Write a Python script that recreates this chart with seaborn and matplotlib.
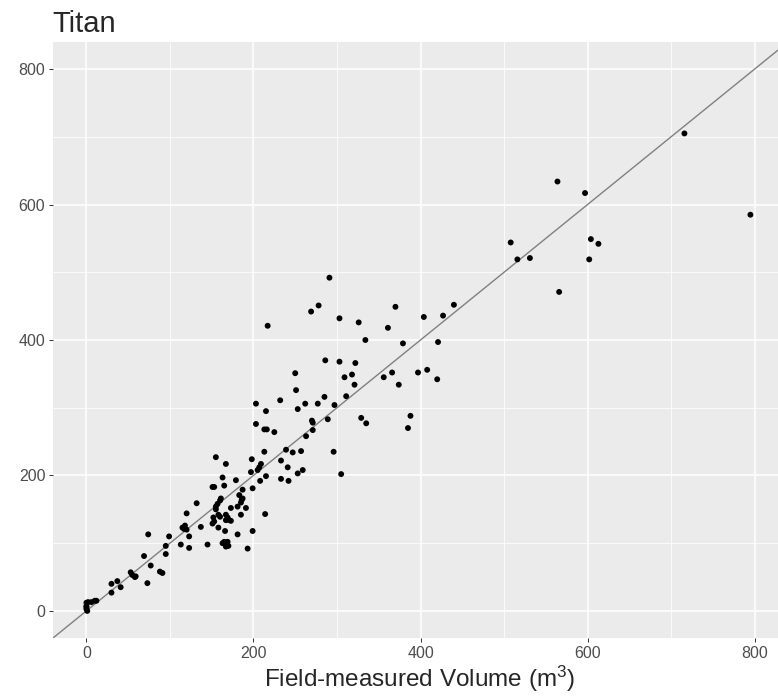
import matplotlib
matplotlib.use("Agg")
import matplotlib.pyplot as plt
import seaborn as sns
import pandas as pd

# field-measured volume (m3) vs Titan estimate
field_volume = [
    564, 597, 795, 508, 516, 531, 604, 613, 602, 566, 370, 440, 361, 404, 427,
    379, 421, 356, 366, 374, 397, 408, 420, 388, 716,
    291, 269, 278, 217, 303, 326, 334, 286, 303, 322, 309, 318, 321, 250, 251, 311,
    285, 232, 262, 277, 203, 297, 253, 215, 289, 270, 271, 203, 213, 216, 225, 329,
    335, 385, 271, 263, 213, 239, 247, 257, 296, 198, 233, 209, 207, 205, 197, 241,
    259, 253, 215, 179, 208, 233, 242, 305,
    155, 167, 163, 153, 151, 165, 132, 187, 199, 161, 160, 157, 155, 155, 183, 187,
    186, 185, 191, 181, 173, 185, 158, 160, 167, 169, 152, 153, 151, 158, 167, 171,
    173, 214, 199, 181, 166, 120, 115, 117, 118, 120, 137, 123, 99, 74, 113, 123,
    95, 95, 145, 163, 165, 169, 167, 170, 193, 69, 77, 88, 91,
    53, 55, 58, 59, 30, 37, 30, 41, 0, 2, 6, 10, 12, 0, 0, 1, 0, 73,
]
titan_volume = [
    634, 617, 585, 544, 519, 521, 549, 542, 519, 471, 449, 452, 418, 434, 436,
    395, 397, 345, 352, 334, 352, 356, 342, 288, 705,
    492, 442, 451, 421, 432, 426, 400, 370, 368, 366, 345, 349, 334, 351, 326, 317,
    316, 311, 306, 306, 306, 304, 298, 295, 283, 281, 278, 276, 268, 268, 264, 285,
    277, 270, 267, 258, 235, 238, 234, 236, 235, 224, 222, 217, 212, 208, 205, 212,
    208, 203, 199, 193, 192, 195, 192, 202,
    227, 217, 197, 183, 183, 185, 159, 179, 181, 166, 163, 158, 154, 150, 171, 166,
    164, 160, 152, 154, 152, 142, 142, 139, 142, 138, 138, 132, 129, 123, 134, 134,
    133, 143, 118, 113, 118, 144, 123, 121, 126, 120, 124, 110, 110, 113, 98, 93,
    96, 84, 98, 100, 102, 102, 95, 96, 92, 81, 67, 58, 56,
    57, 53, 50, 51, 40, 44, 27, 35, 12, 13, 13, 15, 15, 7, 3, 0, 6, 41,
]

ticks = [0, 200, 400, 600, 800]
minor_ticks = [100, 300, 500, 700]

df = pd.DataFrame({"field": field_volume, "titan": titan_volume})

sns.set_theme(style="darkgrid")
plt.rcParams["font.family"] = ["Liberation Sans", "DejaVu Sans"]
plt.rcParams["mathtext.default"] = "regular"

fig = plt.figure(figsize=(7.78, 6.98), dpi=100)
ax = fig.add_axes([53 / 778, 60 / 698, 735 / 778, 596 / 698])
ax.set_facecolor("#EBEBEB")

sns.scatterplot(data=df, x="field", y="titan", ax=ax, color="black", s=18,
                edgecolor="none", zorder=3)
ax.axline((0, 0), slope=1, color="#808080", lw=1.0, zorder=2)

ax.set_xlim(-40, 840)
ax.set_ylim(-40, 840)
ax.set_xticks(ticks)
ax.set_yticks(ticks)
ax.set_xticks(minor_ticks, minor=True)
ax.set_yticks(minor_ticks, minor=True)
ax.grid(which="major", color="white", lw=1.1)
ax.grid(which="minor", color="white", lw=0.55)
for s in ax.spines.values():
    s.set_visible(False)
ax.tick_params(which="major", direction="out", length=3, width=0.7, color="#333333",
               labelsize=11.5, labelcolor="#4D4D4D", pad=2.5,
               bottom=True, left=True)
ax.tick_params(which="minor", length=0)
ax.set_xlabel("")
ax.set_ylabel("")

fig.text(52 / 778, (698 - 32) / 698, "Titan", fontsize=21, ha="left", va="baseline")
fig.text(420 / 778, (698 - 687) / 698, "Field-measured Volume (m$^3$)", fontsize=17.5,
         ha="center", va="baseline")

fig.savefig("out.png", dpi=100)
